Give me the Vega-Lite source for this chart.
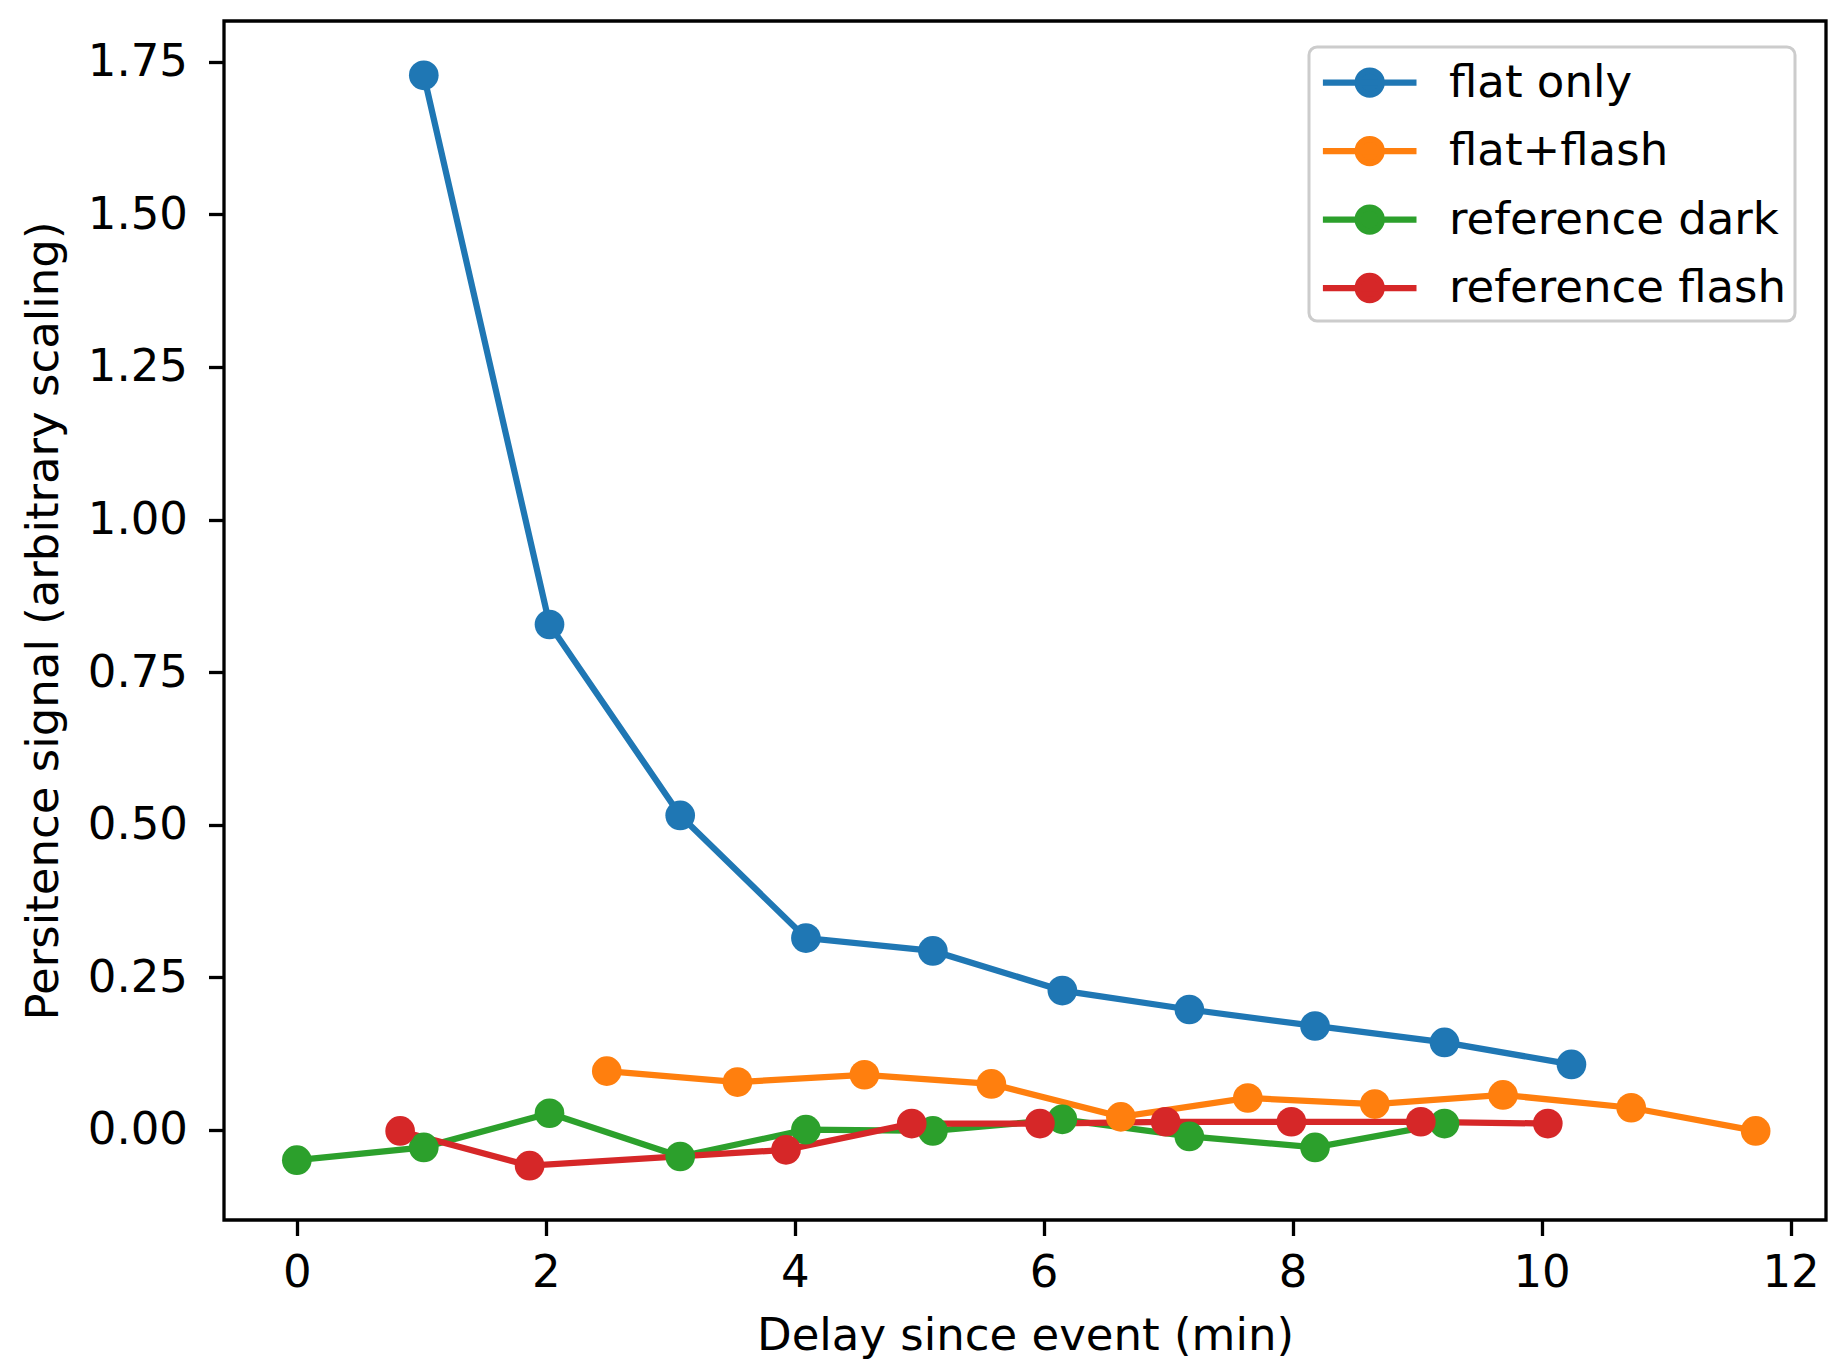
{
  "$schema": "https://vega.github.io/schema/vega-lite/v6.json",
  "width": 1602,
  "height": 1199,
  "autosize": {"type": "none"},
  "padding": {"left": 224, "top": 21, "right": 4, "bottom": 145},
  "background": "white",
  "config": {
    "font": "DejaVu Sans",
    "view": {"stroke": "#000000", "strokeWidth": 3.3},
    "axis": {
      "grid": false,
      "domain": false,
      "ticks": true,
      "tickColor": "#000000",
      "tickWidth": 3.3,
      "tickSize": 15.5,
      "labelPadding": 14.6,
      "labelFont": "DejaVu Sans",
      "labelFontSize": 45,
      "labelColor": "#000000",
      "labelFlush": false,
      "labelOverlap": false,
      "labelBound": false,
      "titleFont": "DejaVu Sans",
      "titleFontSize": 45,
      "titleFontWeight": "normal",
      "titleColor": "#000000"
    }
  },
  "data": {
    "values": [
      {"series": "flat only", "x": 1.02, "y": 1.728},
      {"series": "flat only", "x": 2.03, "y": 0.828},
      {"series": "flat only", "x": 3.08, "y": 0.515},
      {"series": "flat only", "x": 4.09, "y": 0.314},
      {"series": "flat only", "x": 5.11, "y": 0.293},
      {"series": "flat only", "x": 6.15, "y": 0.228},
      {"series": "flat only", "x": 7.17, "y": 0.197},
      {"series": "flat only", "x": 8.18, "y": 0.170},
      {"series": "flat only", "x": 9.22, "y": 0.143},
      {"series": "flat only", "x": 10.24, "y": 0.107},
      {"series": "flat+flash", "x": 2.49, "y": 0.096},
      {"series": "flat+flash", "x": 3.54, "y": 0.078},
      {"series": "flat+flash", "x": 4.56, "y": 0.090},
      {"series": "flat+flash", "x": 5.58, "y": 0.075},
      {"series": "flat+flash", "x": 6.62, "y": 0.021},
      {"series": "flat+flash", "x": 7.64, "y": 0.052},
      {"series": "flat+flash", "x": 8.66, "y": 0.042},
      {"series": "flat+flash", "x": 9.69, "y": 0.057},
      {"series": "flat+flash", "x": 10.72, "y": 0.036},
      {"series": "flat+flash", "x": 11.72, "y": -0.002},
      {"series": "reference dark", "x": 0.0, "y": -0.050},
      {"series": "reference dark", "x": 1.02, "y": -0.029},
      {"series": "reference dark", "x": 2.03, "y": 0.027},
      {"series": "reference dark", "x": 3.08, "y": -0.044},
      {"series": "reference dark", "x": 4.09, "y": 0.000},
      {"series": "reference dark", "x": 5.11, "y": -0.002},
      {"series": "reference dark", "x": 6.15, "y": 0.017},
      {"series": "reference dark", "x": 7.17, "y": -0.011},
      {"series": "reference dark", "x": 8.18, "y": -0.029},
      {"series": "reference dark", "x": 9.22, "y": 0.010},
      {"series": "reference flash", "x": 0.83, "y": -0.002},
      {"series": "reference flash", "x": 1.87, "y": -0.059},
      {"series": "reference flash", "x": 3.93, "y": -0.033},
      {"series": "reference flash", "x": 4.94, "y": 0.010},
      {"series": "reference flash", "x": 5.97, "y": 0.010},
      {"series": "reference flash", "x": 6.98, "y": 0.013},
      {"series": "reference flash", "x": 7.99, "y": 0.013},
      {"series": "reference flash", "x": 9.03, "y": 0.013},
      {"series": "reference flash", "x": 10.05, "y": 0.010}
    ]
  },
  "encoding": {
    "x": {
      "field": "x",
      "type": "quantitative",
      "scale": {"domain": [-0.585, 12.285], "nice": false, "zero": false},
      "axis": {"values": [0, 2, 4, 6, 8, 10, 12], "format": "d", "title": "Delay since event (min)", "titlePadding": 18}
    },
    "y": {
      "field": "y",
      "type": "quantitative",
      "scale": {"domain": [-0.148, 1.817], "nice": false, "zero": false},
      "axis": {"values": [0, 0.25, 0.5, 0.75, 1.0, 1.25, 1.5, 1.75], "format": ".2f", "title": "Persitence signal (arbitrary scaling)", "titlePadding": 21, "labelPadding": 21}
    },
    "color": {
      "field": "series",
      "type": "nominal",
      "scale": {
        "domain": ["flat only", "flat+flash", "reference dark", "reference flash"],
        "range": ["#1f77b4", "#ff7f0e", "#2ca02c", "#d62728"]
      },
      "legend": {
        "title": null,
        "orient": "none",
        "legendX": 1085,
        "legendY": 26,
        "padding": 8,
        "rowPadding": 16.5,
        "symbolType": "M -0.9 0 L 3 0 M 1.55 0 A 0.5 0.5 0 1 1 0.55 0 A 0.5 0.5 0 1 1 1.55 0 Z",
        "symbolSize": 2304,
        "symbolStrokeWidth": 6.25,
        "symbolOpacity": 1,
        "labelOffset": 77,
        "labelFont": "DejaVu Sans",
        "labelFontSize": 45,
        "labelColor": "#000000",
        "labelLimit": 0,
        "strokeColor": "#cccccc",
        "fillColor": "rgba(255,255,255,0.8)",
        "cornerRadius": 8,
        "encode": {
          "symbols": {
            "update": {
              "fill": {"scale": "color", "field": "value"},
              "stroke": {"scale": "color", "field": "value"},
              "opacity": {"value": 1}
            }
          },
          "legend": {"update": {"strokeWidth": {"value": 3}}}
        }
      }
    }
  },
  "layer": [
    {"mark": {"type": "line", "strokeWidth": 6.25}},
    {"mark": {"type": "point", "filled": true, "shape": "circle", "size": 880, "opacity": 1}}
  ]
}
